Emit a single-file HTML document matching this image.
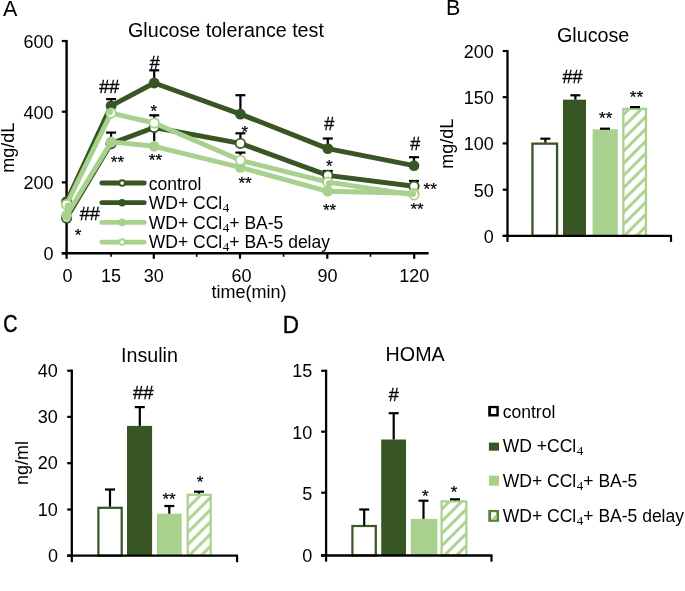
<!DOCTYPE html><html><head><meta charset="utf-8"><style>html,body{margin:0;padding:0;background:#fff;}svg{display:block;will-change:transform;}text{font-family:"Liberation Sans",sans-serif;fill:#000;}</style></head><body>
<svg width="685" height="591" viewBox="0 0 685 591">
<defs>
<pattern id="hatchB" patternUnits="userSpaceOnUse" width="8.63" height="8.63" patternTransform="rotate(45)"><rect width="8.63" height="8.63" fill="#fff"/><rect x="2.651" y="0" width="2.900" height="8.63" fill="#A9D18E"/></pattern>
<pattern id="hatchC" patternUnits="userSpaceOnUse" width="8.63" height="8.63" patternTransform="rotate(45)"><rect width="8.63" height="8.63" fill="#fff"/><rect x="0.000" y="0" width="1.521" height="8.63" fill="#A9D18E"/><rect x="7.251" y="0" width="1.379" height="8.63" fill="#A9D18E"/></pattern>
<pattern id="hatchD" patternUnits="userSpaceOnUse" width="8.63" height="8.63" patternTransform="rotate(45)"><rect width="8.63" height="8.63" fill="#fff"/><rect x="6.470" y="0" width="2.160" height="8.63" fill="#A9D18E"/><rect x="0.000" y="0" width="0.740" height="8.63" fill="#A9D18E"/></pattern>
</defs>
<rect width="685" height="591" fill="#fff"/>
<text x="3" y="15.8" font-size="21.5" text-anchor="start" >A</text>
<text x="128" y="37" font-size="19.7" text-anchor="start" >Glucose tolerance test</text>
<line x1="66.6" y1="40" x2="66.6" y2="254.5" stroke="#000" stroke-width="2.4" stroke-linecap="butt"/>
<line x1="61.8" y1="41" x2="66.6" y2="41" stroke="#000" stroke-width="2.2" stroke-linecap="butt"/>
<text x="53.5" y="48" font-size="18" text-anchor="end" >600</text>
<line x1="61.8" y1="111.7" x2="66.6" y2="111.7" stroke="#000" stroke-width="2.2" stroke-linecap="butt"/>
<text x="53.5" y="118.7" font-size="18" text-anchor="end" >400</text>
<line x1="61.8" y1="182.4" x2="66.6" y2="182.4" stroke="#000" stroke-width="2.2" stroke-linecap="butt"/>
<text x="53.5" y="189.4" font-size="18" text-anchor="end" >200</text>
<line x1="61.8" y1="253.3" x2="66.6" y2="253.3" stroke="#000" stroke-width="2.2" stroke-linecap="butt"/>
<text x="53.5" y="260.3" font-size="18" text-anchor="end" >0</text>
<text transform="translate(14,147.7) rotate(-90)" x="0" y="0" font-size="18" text-anchor="middle">mg/dL</text>
<line x1="61.8" y1="253.3" x2="428.6" y2="253.3" stroke="#000" stroke-width="2.4" stroke-linecap="butt"/>
<line x1="66.6" y1="253.3" x2="66.6" y2="258.8" stroke="#000" stroke-width="2.2" stroke-linecap="butt"/>
<line x1="153.8" y1="253.3" x2="153.8" y2="258.8" stroke="#000" stroke-width="2.2" stroke-linecap="butt"/>
<line x1="240" y1="253.3" x2="240" y2="258.8" stroke="#000" stroke-width="2.2" stroke-linecap="butt"/>
<line x1="327.3" y1="253.3" x2="327.3" y2="258.8" stroke="#000" stroke-width="2.2" stroke-linecap="butt"/>
<line x1="414.2" y1="253.3" x2="414.2" y2="258.8" stroke="#000" stroke-width="2.2" stroke-linecap="butt"/>
<line x1="111.1" y1="253.3" x2="111.1" y2="256.8" stroke="#000" stroke-width="1.6" stroke-linecap="butt"/>
<line x1="196.7" y1="253.3" x2="196.7" y2="256.8" stroke="#000" stroke-width="1.6" stroke-linecap="butt"/>
<line x1="283.6" y1="253.3" x2="283.6" y2="256.8" stroke="#000" stroke-width="1.6" stroke-linecap="butt"/>
<line x1="370.5" y1="253.3" x2="370.5" y2="256.8" stroke="#000" stroke-width="1.6" stroke-linecap="butt"/>
<text x="67.5" y="281.5" font-size="18" text-anchor="middle" >0</text>
<text x="111.1" y="281.5" font-size="18" text-anchor="middle" >15</text>
<text x="153.7" y="281.5" font-size="18" text-anchor="middle" >30</text>
<text x="241.5" y="281.5" font-size="18" text-anchor="middle" >60</text>
<text x="327.5" y="281.5" font-size="18" text-anchor="middle" >90</text>
<text x="414.2" y="281.5" font-size="18" text-anchor="middle" >120</text>
<text x="249" y="298" font-size="18" text-anchor="middle" >time(min)</text>
<line x1="111.1" y1="105.9" x2="111.1" y2="99.1" stroke="#000" stroke-width="2.2" stroke-linecap="butt"/>
<line x1="106.1" y1="99.1" x2="116.1" y2="99.1" stroke="#000" stroke-width="2.2" stroke-linecap="butt"/>
<line x1="111.1" y1="143.6" x2="111.1" y2="132.6" stroke="#000" stroke-width="2.2" stroke-linecap="butt"/>
<line x1="106.1" y1="132.6" x2="116.1" y2="132.6" stroke="#000" stroke-width="2.2" stroke-linecap="butt"/>
<line x1="154.2" y1="83.0" x2="154.2" y2="70.3" stroke="#000" stroke-width="2.2" stroke-linecap="butt"/>
<line x1="149.2" y1="70.3" x2="159.2" y2="70.3" stroke="#000" stroke-width="2.2" stroke-linecap="butt"/>
<line x1="154.2" y1="141" x2="154.2" y2="115.3" stroke="#000" stroke-width="2.2" stroke-linecap="butt"/>
<line x1="149.2" y1="115.3" x2="159.2" y2="115.3" stroke="#000" stroke-width="2.2" stroke-linecap="butt"/>
<line x1="240.4" y1="114.1" x2="240.4" y2="95.2" stroke="#000" stroke-width="2.2" stroke-linecap="butt"/>
<line x1="235.4" y1="95.2" x2="245.4" y2="95.2" stroke="#000" stroke-width="2.2" stroke-linecap="butt"/>
<line x1="240.4" y1="143.4" x2="240.4" y2="133.3" stroke="#000" stroke-width="2.2" stroke-linecap="butt"/>
<line x1="235.4" y1="133.3" x2="245.4" y2="133.3" stroke="#000" stroke-width="2.2" stroke-linecap="butt"/>
<line x1="240.4" y1="160.3" x2="240.4" y2="152.6" stroke="#000" stroke-width="2.2" stroke-linecap="butt"/>
<line x1="235.4" y1="152.6" x2="245.4" y2="152.6" stroke="#000" stroke-width="2.2" stroke-linecap="butt"/>
<line x1="327.8" y1="148.6" x2="327.8" y2="138.5" stroke="#000" stroke-width="2.2" stroke-linecap="butt"/>
<line x1="322.8" y1="138.5" x2="332.8" y2="138.5" stroke="#000" stroke-width="2.2" stroke-linecap="butt"/>
<line x1="327.8" y1="175.4" x2="327.8" y2="171.0" stroke="#000" stroke-width="2.2" stroke-linecap="butt"/>
<line x1="322.8" y1="171.0" x2="332.8" y2="171.0" stroke="#000" stroke-width="2.2" stroke-linecap="butt"/>
<line x1="414.0" y1="165.7" x2="414.0" y2="157.2" stroke="#000" stroke-width="2.2" stroke-linecap="butt"/>
<line x1="409.0" y1="157.2" x2="419.0" y2="157.2" stroke="#000" stroke-width="2.2" stroke-linecap="butt"/>
<line x1="414.0" y1="186.3" x2="414.0" y2="181.0" stroke="#000" stroke-width="2.2" stroke-linecap="butt"/>
<line x1="409.0" y1="181.0" x2="419.0" y2="181.0" stroke="#000" stroke-width="2.2" stroke-linecap="butt"/>
<polyline points="66.6,218.0 111.1,143.6 154.2,127.5 240.4,143.4 327.8,175.4 414.0,186.3" fill="none" stroke="#375623" stroke-width="4.9" stroke-linejoin="round"/>
<circle cx="66.6" cy="218.0" r="4.7" fill="#fff" stroke="#375623" stroke-width="1.8"/>
<circle cx="111.1" cy="143.6" r="4.7" fill="#fff" stroke="#375623" stroke-width="1.8"/>
<circle cx="154.2" cy="127.5" r="4.7" fill="#fff" stroke="#375623" stroke-width="1.8"/>
<circle cx="240.4" cy="143.4" r="4.7" fill="#fff" stroke="#375623" stroke-width="1.8"/>
<circle cx="327.8" cy="175.4" r="4.7" fill="#fff" stroke="#375623" stroke-width="1.8"/>
<circle cx="414.0" cy="186.3" r="4.7" fill="#fff" stroke="#375623" stroke-width="1.8"/>
<polyline points="66.6,201.6 111.1,105.9 154.2,83.0 240.4,114.1 327.8,148.6 414.0,165.7" fill="none" stroke="#375623" stroke-width="4.9" stroke-linejoin="round"/>
<circle cx="66.6" cy="201.6" r="5.4" fill="#375623"/>
<circle cx="111.1" cy="105.9" r="5.4" fill="#375623"/>
<circle cx="154.2" cy="83.0" r="5.4" fill="#375623"/>
<circle cx="240.4" cy="114.1" r="5.4" fill="#375623"/>
<circle cx="327.8" cy="148.6" r="5.4" fill="#375623"/>
<circle cx="414.0" cy="165.7" r="5.4" fill="#375623"/>
<polyline points="66.6,215.3 111.1,141.9 154.2,146.3 240.4,167.4 327.8,191.3 414.0,193.3" fill="none" stroke="#A9D18E" stroke-width="4.9" stroke-linejoin="round"/>
<circle cx="66.6" cy="215.3" r="5.4" fill="#A9D18E"/>
<circle cx="111.1" cy="141.9" r="5.4" fill="#A9D18E"/>
<circle cx="154.2" cy="146.3" r="5.4" fill="#A9D18E"/>
<circle cx="240.4" cy="167.4" r="5.4" fill="#A9D18E"/>
<circle cx="327.8" cy="191.3" r="5.4" fill="#A9D18E"/>
<circle cx="414.0" cy="193.3" r="5.4" fill="#A9D18E"/>
<polyline points="66.6,204.5 111.1,113.1 154.2,123.0 240.4,160.3 327.8,182.2 414.0,194.9" fill="none" stroke="#A9D18E" stroke-width="4.9" stroke-linejoin="round"/>
<circle cx="66.6" cy="204.5" r="4.7" fill="#fff" stroke="#A9D18E" stroke-width="1.8"/>
<circle cx="111.1" cy="113.1" r="4.7" fill="#fff" stroke="#A9D18E" stroke-width="1.8"/>
<circle cx="154.2" cy="123.0" r="4.7" fill="#fff" stroke="#A9D18E" stroke-width="1.8"/>
<circle cx="240.4" cy="160.3" r="4.7" fill="#fff" stroke="#A9D18E" stroke-width="1.8"/>
<circle cx="327.8" cy="182.2" r="4.7" fill="#fff" stroke="#A9D18E" stroke-width="1.8"/>
<circle cx="414.0" cy="194.9" r="4.7" fill="#fff" stroke="#A9D18E" stroke-width="1.8"/>
<clipPath id="dclip"><circle cx="66.6" cy="204.5" r="4"/><circle cx="111.1" cy="113.1" r="4"/><circle cx="154.2" cy="123.0" r="4"/><circle cx="240.4" cy="160.3" r="4"/><circle cx="327.8" cy="182.2" r="4"/><circle cx="414.0" cy="194.9" r="4"/></clipPath>
<circle cx="68.0" cy="205.9" r="3.4" fill="#A9D18E" clip-path="url(#dclip)"/>
<circle cx="109.69999999999999" cy="111.69999999999999" r="3.4" fill="#A9D18E" clip-path="url(#dclip)"/>
<circle cx="329.2" cy="183.6" r="3.4" fill="#A9D18E" clip-path="url(#dclip)"/>
<circle cx="412.6" cy="193.5" r="3.4" fill="#A9D18E" clip-path="url(#dclip)"/>
<text x="79.68" y="220.00" font-size="18" stroke="#000" stroke-width="0.3">##</text>
<text x="74.72" y="241.42" font-size="17" stroke="#000" stroke-width="0.25">*</text>
<text x="99.18" y="92.80" font-size="18" stroke="#000" stroke-width="0.3">##</text>
<text x="110.82" y="167.92" font-size="17" stroke="#000" stroke-width="0.25">**</text>
<text x="149.68" y="69.30" font-size="18" stroke="#000" stroke-width="0.3">#</text>
<text x="150.62" y="117.12" font-size="17" stroke="#000" stroke-width="0.25">*</text>
<text x="148.82" y="166.02" font-size="17" stroke="#000" stroke-width="0.25">**</text>
<text x="241.42" y="137.92" font-size="17" stroke="#000" stroke-width="0.25">*</text>
<text x="238.42" y="188.62" font-size="17" stroke="#000" stroke-width="0.25">**</text>
<text x="324.18" y="130.30" font-size="18" stroke="#000" stroke-width="0.3">#</text>
<text x="325.92" y="172.42" font-size="17" stroke="#000" stroke-width="0.25">*</text>
<text x="322.92" y="215.52" font-size="17" stroke="#000" stroke-width="0.25">**</text>
<text x="410.18" y="150.10" font-size="18" stroke="#000" stroke-width="0.3">#</text>
<text x="423.62" y="194.72" font-size="17" stroke="#000" stroke-width="0.25">**</text>
<text x="410.42" y="215.02" font-size="17" stroke="#000" stroke-width="0.25">**</text>
<line x1="101.80000000000001" y1="183.0" x2="144.29999999999998" y2="183.0" stroke="#375623" stroke-width="4.8" stroke-linecap="round"/>
<circle cx="122.1" cy="183.0" r="2.8" fill="#fff" stroke="#375623" stroke-width="1.9"/>
<line x1="101.80000000000001" y1="202.7" x2="144.29999999999998" y2="202.7" stroke="#375623" stroke-width="4.8" stroke-linecap="round"/>
<circle cx="122.1" cy="202.7" r="3.8" fill="#375623"/>
<line x1="101.80000000000001" y1="222.4" x2="144.29999999999998" y2="222.4" stroke="#A9D18E" stroke-width="4.8" stroke-linecap="round"/>
<circle cx="122.1" cy="222.4" r="3.8" fill="#A9D18E"/>
<line x1="101.80000000000001" y1="242.1" x2="144.29999999999998" y2="242.1" stroke="#A9D18E" stroke-width="4.8" stroke-linecap="round"/>
<circle cx="122.1" cy="242.1" r="2.8" fill="#fff" stroke="#A9D18E" stroke-width="1.9"/>
<text x="148.8" y="190.0" font-size="17.5" text-anchor="start" >control</text>
<text x="148.8" y="209.4" font-size="17.5" text-anchor="start" >WD+ CCl<tspan font-family="Liberation Serif" font-size="13" dx="0.6" dy="3">4</tspan><tspan dy="-3"></tspan></text>
<text x="148.8" y="228.7" font-size="17.5" text-anchor="start" >WD+ CCl<tspan font-family="Liberation Serif" font-size="13" dx="0.6" dy="3">4</tspan><tspan dy="-3">+ BA-5</tspan></text>
<text x="148.8" y="248.0" font-size="17.5" text-anchor="start" >WD+ CCl<tspan font-family="Liberation Serif" font-size="13" dx="0.6" dy="3">4</tspan><tspan dy="-3">+ BA-5 delay</tspan></text>
<text x="446" y="15.3" font-size="21.5" text-anchor="start" >B</text>
<text x="557" y="41.7" font-size="19.7" text-anchor="start" >Glucose</text>
<line x1="507.5" y1="50" x2="507.5" y2="237" stroke="#000" stroke-width="2.3" stroke-linecap="butt"/>
<line x1="502.7" y1="51" x2="507.5" y2="51" stroke="#000" stroke-width="2.2" stroke-linecap="butt"/>
<text x="493.8" y="57.9" font-size="18" text-anchor="end" >200</text>
<line x1="502.7" y1="97.2" x2="507.5" y2="97.2" stroke="#000" stroke-width="2.2" stroke-linecap="butt"/>
<text x="493.8" y="104.10000000000001" font-size="18" text-anchor="end" >150</text>
<line x1="502.7" y1="143.4" x2="507.5" y2="143.4" stroke="#000" stroke-width="2.2" stroke-linecap="butt"/>
<text x="493.8" y="150.3" font-size="18" text-anchor="end" >100</text>
<line x1="502.7" y1="189.7" x2="507.5" y2="189.7" stroke="#000" stroke-width="2.2" stroke-linecap="butt"/>
<text x="493.8" y="196.6" font-size="18" text-anchor="end" >50</text>
<line x1="502.7" y1="235.9" x2="507.5" y2="235.9" stroke="#000" stroke-width="2.2" stroke-linecap="butt"/>
<text x="493.8" y="242.8" font-size="18" text-anchor="end" >0</text>
<text transform="translate(452.8,143.7) rotate(-90)" x="0" y="0" font-size="18" text-anchor="middle">mg/dL</text>
<rect x="532.45" y="143.65" width="24.6" height="92.25" fill="#fff" stroke="#375623" stroke-width="2.3"/>
<rect x="563" y="99.7" width="23" height="136.2" fill="#375623"/>
<rect x="592.6" y="129.3" width="25.2" height="106.6" fill="#A9D18E"/>
<rect x="623.35" y="108.85" width="22.6" height="127.05" fill="url(#hatchB)" stroke="#A9D18E" stroke-width="2.3"/>
<line x1="502.7" y1="235.9" x2="672" y2="235.9" stroke="#000" stroke-width="2.3" stroke-linecap="butt"/>
<line x1="507.5" y1="235.9" x2="507.5" y2="241.9" stroke="#000" stroke-width="2.2" stroke-linecap="butt"/>
<line x1="671" y1="235.9" x2="671" y2="241.9" stroke="#000" stroke-width="2.2" stroke-linecap="butt"/>
<line x1="545.4" y1="142.6" x2="545.4" y2="138.7" stroke="#000" stroke-width="2.2" stroke-linecap="butt"/>
<line x1="540.4" y1="138.7" x2="550.4" y2="138.7" stroke="#000" stroke-width="2.2" stroke-linecap="butt"/>
<line x1="575.4" y1="99.7" x2="575.4" y2="95.3" stroke="#000" stroke-width="2.2" stroke-linecap="butt"/>
<line x1="570.4" y1="95.3" x2="580.4" y2="95.3" stroke="#000" stroke-width="2.2" stroke-linecap="butt"/>
<line x1="605.0" y1="129.3" x2="605.0" y2="128.7" stroke="#000" stroke-width="2.2" stroke-linecap="butt"/>
<line x1="600.0" y1="128.7" x2="610.0" y2="128.7" stroke="#000" stroke-width="2.2" stroke-linecap="butt"/>
<line x1="635.0" y1="107.7" x2="635.0" y2="107.1" stroke="#000" stroke-width="2.2" stroke-linecap="butt"/>
<line x1="630.0" y1="107.1" x2="640.0" y2="107.1" stroke="#000" stroke-width="2.2" stroke-linecap="butt"/>
<text x="562.48" y="82.60" font-size="18" stroke="#000" stroke-width="0.3">##</text>
<text x="599.12" y="123.92" font-size="17" stroke="#000" stroke-width="0.25">**</text>
<text x="629.82" y="102.72" font-size="17" stroke="#000" stroke-width="0.25">**</text>
<text transform="translate(3.2,332.3) scale(0.84,1)" x="0" y="0" font-size="23.4" stroke="#000" stroke-width="0.5">C</text>
<text x="121" y="362.4" font-size="19.7" text-anchor="start" >Insulin</text>
<line x1="71.8" y1="369.6" x2="71.8" y2="556.7" stroke="#000" stroke-width="2.3" stroke-linecap="butt"/>
<line x1="67.2" y1="370.7" x2="71.8" y2="370.7" stroke="#000" stroke-width="2.2" stroke-linecap="butt"/>
<text x="57.9" y="376.9" font-size="18" text-anchor="end" >40</text>
<line x1="67.2" y1="416.9" x2="71.8" y2="416.9" stroke="#000" stroke-width="2.2" stroke-linecap="butt"/>
<text x="57.9" y="423.09999999999997" font-size="18" text-anchor="end" >30</text>
<line x1="67.2" y1="463.2" x2="71.8" y2="463.2" stroke="#000" stroke-width="2.2" stroke-linecap="butt"/>
<text x="57.9" y="469.4" font-size="18" text-anchor="end" >20</text>
<line x1="67.2" y1="509.5" x2="71.8" y2="509.5" stroke="#000" stroke-width="2.2" stroke-linecap="butt"/>
<text x="57.9" y="515.7" font-size="18" text-anchor="end" >10</text>
<line x1="67.2" y1="555.6" x2="71.8" y2="555.6" stroke="#000" stroke-width="2.2" stroke-linecap="butt"/>
<text x="57.9" y="561.8000000000001" font-size="18" text-anchor="end" >0</text>
<text transform="translate(27.5,463) rotate(-90)" x="0" y="0" font-size="18" text-anchor="middle">ng/ml</text>
<rect x="98.4" y="507.8" width="23.3" height="47.8" fill="#fff" stroke="#375623" stroke-width="2.2"/>
<rect x="127" y="425.9" width="25.1" height="129.7" fill="#375623"/>
<rect x="157" y="513.7" width="24.7" height="41.9" fill="#A9D18E"/>
<rect x="187.7" y="494.8" width="23" height="60.8" fill="url(#hatchC)" stroke="#A9D18E" stroke-width="2.2"/>
<line x1="67.2" y1="555.6" x2="238" y2="555.6" stroke="#000" stroke-width="2.3" stroke-linecap="butt"/>
<line x1="71.8" y1="555.6" x2="71.8" y2="562.2" stroke="#000" stroke-width="2.2" stroke-linecap="butt"/>
<line x1="237.1" y1="555.6" x2="237.1" y2="562.2" stroke="#000" stroke-width="2.2" stroke-linecap="butt"/>
<line x1="110" y1="506.7" x2="110" y2="489.5" stroke="#000" stroke-width="2.2" stroke-linecap="butt"/>
<line x1="105.0" y1="489.5" x2="115.0" y2="489.5" stroke="#000" stroke-width="2.2" stroke-linecap="butt"/>
<line x1="139.8" y1="425.9" x2="139.8" y2="407.1" stroke="#000" stroke-width="2.2" stroke-linecap="butt"/>
<line x1="134.8" y1="407.1" x2="144.8" y2="407.1" stroke="#000" stroke-width="2.2" stroke-linecap="butt"/>
<line x1="169.3" y1="513.7" x2="169.3" y2="506" stroke="#000" stroke-width="2.2" stroke-linecap="butt"/>
<line x1="164.3" y1="506" x2="174.3" y2="506" stroke="#000" stroke-width="2.2" stroke-linecap="butt"/>
<line x1="199" y1="493.7" x2="199" y2="491.7" stroke="#000" stroke-width="2.2" stroke-linecap="butt"/>
<line x1="194.0" y1="491.7" x2="204.0" y2="491.7" stroke="#000" stroke-width="2.2" stroke-linecap="butt"/>
<text x="132.98" y="398.80" font-size="18.5" stroke="#000" stroke-width="0.3">##</text>
<text x="162.42" y="504.92" font-size="17" stroke="#000" stroke-width="0.25">**</text>
<text x="196.82" y="487.52" font-size="17" stroke="#000" stroke-width="0.25">*</text>
<text transform="translate(282.7,332.6) scale(0.97,1)" x="0" y="0" font-size="23.2" stroke="#000" stroke-width="0.4">D</text>
<text x="385.6" y="361" font-size="19.7" text-anchor="start" >HOMA</text>
<line x1="326.1" y1="369.7" x2="326.1" y2="556.6" stroke="#000" stroke-width="2.3" stroke-linecap="butt"/>
<line x1="321.2" y1="370.8" x2="326.1" y2="370.8" stroke="#000" stroke-width="2.2" stroke-linecap="butt"/>
<text x="312.3" y="377.3" font-size="18" text-anchor="end" >15</text>
<line x1="321.2" y1="431.7" x2="326.1" y2="431.7" stroke="#000" stroke-width="2.2" stroke-linecap="butt"/>
<text x="312.3" y="438.5" font-size="18" text-anchor="end" >10</text>
<line x1="321.2" y1="492.7" x2="326.1" y2="492.7" stroke="#000" stroke-width="2.2" stroke-linecap="butt"/>
<text x="312.3" y="500.3" font-size="18" text-anchor="end" >5</text>
<line x1="321.2" y1="555.5" x2="326.1" y2="555.5" stroke="#000" stroke-width="2.2" stroke-linecap="butt"/>
<text x="312.3" y="562.0" font-size="18" text-anchor="end" >0</text>
<rect x="352.4" y="526" width="23.4" height="29.5" fill="#fff" stroke="#375623" stroke-width="2.2"/>
<rect x="381.2" y="439.5" width="24.8" height="116" fill="#375623"/>
<rect x="410.8" y="518.9" width="26.5" height="36.6" fill="#A9D18E"/>
<rect x="441.6" y="501.4" width="24.8" height="54.1" fill="url(#hatchD)" stroke="#A9D18E" stroke-width="2.2"/>
<line x1="321" y1="555.5" x2="492.5" y2="555.5" stroke="#000" stroke-width="2.3" stroke-linecap="butt"/>
<line x1="326.1" y1="555.5" x2="326.1" y2="561.7" stroke="#000" stroke-width="2.2" stroke-linecap="butt"/>
<line x1="491.5" y1="555.5" x2="491.5" y2="561.7" stroke="#000" stroke-width="2.2" stroke-linecap="butt"/>
<line x1="364.2" y1="525.5" x2="364.2" y2="509.5" stroke="#000" stroke-width="2.2" stroke-linecap="butt"/>
<line x1="359.2" y1="509.5" x2="369.2" y2="509.5" stroke="#000" stroke-width="2.2" stroke-linecap="butt"/>
<line x1="393.7" y1="439.5" x2="393.7" y2="413.2" stroke="#000" stroke-width="2.2" stroke-linecap="butt"/>
<line x1="388.7" y1="413.2" x2="398.7" y2="413.2" stroke="#000" stroke-width="2.2" stroke-linecap="butt"/>
<line x1="423.5" y1="518.9" x2="423.5" y2="500.7" stroke="#000" stroke-width="2.2" stroke-linecap="butt"/>
<line x1="418.5" y1="500.7" x2="428.5" y2="500.7" stroke="#000" stroke-width="2.2" stroke-linecap="butt"/>
<line x1="455" y1="500.3" x2="455" y2="499.3" stroke="#000" stroke-width="2.2" stroke-linecap="butt"/>
<line x1="450.0" y1="499.3" x2="460.0" y2="499.3" stroke="#000" stroke-width="2.2" stroke-linecap="butt"/>
<text x="388.78" y="400.90" font-size="18" stroke="#000" stroke-width="0.3">#</text>
<text x="421.92" y="501.52" font-size="17" stroke="#000" stroke-width="0.25">*</text>
<text x="450.82" y="498.02" font-size="17" stroke="#000" stroke-width="0.25">*</text>
<rect x="488.2" y="405.9" width="10.6" height="10.6" fill="#000"/><rect x="491" y="408.2" width="5.3" height="5.8" fill="#fff"/>
<rect x="488.9" y="442.6" width="10.1" height="8.1" fill="#375623"/>
<rect x="488.9" y="475.6" width="10.1" height="10.1" fill="#A9D18E"/>
<rect x="488.3" y="509.9" width="10.7" height="11.9" fill="#548235"/><rect x="491.1" y="512.2" width="5.3" height="7.3" fill="#fff"/>
<path d="M491.1 519.5 L496.4 514.3 L496.4 519.5 Z" fill="#A9D18E"/>
<text x="502.8" y="417.6" font-size="17.5" text-anchor="start" >control</text>
<text x="502.8" y="452.2" font-size="17.5" text-anchor="start" >WD +CCl<tspan font-family="Liberation Serif" font-size="13" dx="0.6" dy="3">4</tspan><tspan dy="-3"></tspan></text>
<text x="502.8" y="486.9" font-size="17.5" text-anchor="start" >WD+ CCl<tspan font-family="Liberation Serif" font-size="13" dx="0.6" dy="3">4</tspan><tspan dy="-3">+ BA-5</tspan></text>
<text x="502.8" y="521.5" font-size="17.5" text-anchor="start" >WD+ CCl<tspan font-family="Liberation Serif" font-size="13" dx="0.6" dy="3">4</tspan><tspan dy="-3">+ BA-5 delay</tspan></text>
</svg></body></html>
